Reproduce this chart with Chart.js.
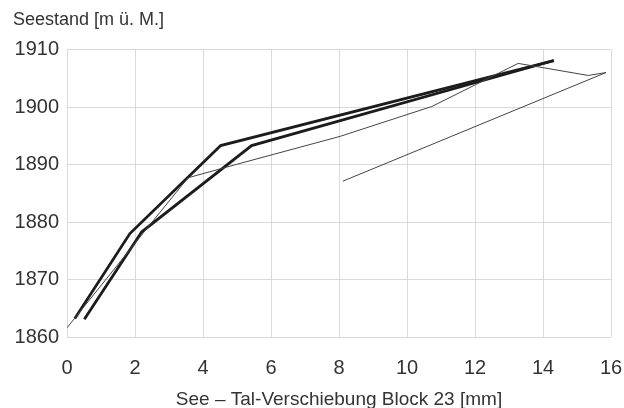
<!DOCTYPE html>
<html>
<head>
<meta charset="utf-8">
<script src="https://cdn.jsdelivr.net/npm/chart.js@4/dist/chart.umd.min.js"></script>
<style>
  html, body { margin: 0; padding: 0; background: #fff; }
  #wrap { width: 624px; height: 408px; }
</style>
</head>
<body>
<div id="wrap"><canvas id="myChart" width="624" height="408"></canvas></div>
<script>
// displacement [mm] vs lake level [m ü. M.]
const thickAx = [0.23, 1.85, 4.52, 14.32];
const thickAy = [1863.2, 1878.0, 1893.3, 1908.1];
const thickBx = [0.51, 2.2, 5.43, 14.32];
const thickBy = [1863.1, 1878.3, 1893.3, 1908.1];
const thinX = [0, 2.38, 3.56, 5.09, 8.03, 10.73, 13.27, 15.33, 15.85, 8.11];
const thinY = [1861.6, 1879.1, 1887.7, 1890.2, 1894.9, 1900.1, 1907.6, 1905.5, 1906.0, 1887.1];
const xTicks = [0, 2, 4, 6, 8, 10, 12, 14, 16];
const yTicks = [1860, 1870, 1880, 1890, 1900, 1910];

function pts(xs, ys) {
  return xs.map((x, i) => ({ x: x, y: ys[i] }));
}

const font = 'Liberation Sans, Arial, Helvetica, sans-serif';

const ctx = document.getElementById('myChart').getContext('2d');
const myChart = new Chart(ctx, {
  type: 'scatter',
  data: {
    datasets: [
      {
        data: pts(thinX, thinY),
        showLine: true,
        borderColor: '#444',
        borderWidth: 1,
        pointRadius: 0,
        tension: 0,
      },
      {
        data: pts(thickAx, thickAy),
        showLine: true,
        borderColor: '#1c1c1c',
        borderWidth: 2.8,
        pointRadius: 0,
        tension: 0,
      },
      {
        data: pts(thickBx, thickBy),
        showLine: true,
        borderColor: '#1c1c1c',
        borderWidth: 2.8,
        pointRadius: 0,
        tension: 0,
      },
    ],
  },
  options: {
    responsive: false,
    animation: false,
    layout: { padding: { left: 13, right: 13, top: 0, bottom: 0 } },
    plugins: {
      legend: { display: false },
      tooltip: { enabled: false },
      title: {
        display: true,
        text: 'Seestand [m ü. M.]',
        align: 'start',
        color: '#333',
        font: { family: font, size: 18, weight: 'normal' },
        padding: { top: 9, bottom: 19 },
      },
    },
    scales: {
      x: {
        type: 'linear',
        min: 0,
        max: 16,
        afterBuildTicks: (s) => { s.ticks = xTicks.map(v => ({ value: v })); },
        afterFit: (s) => { s.height = 71; s.paddingLeft = 0; s.paddingRight = 0; },
        border: { display: false },
        grid: { color: '#d9d9d9', lineWidth: 1, drawTicks: false },
        ticks: {
          color: '#333',
          padding: 19,
          maxRotation: 0,
          font: { family: font, size: 20 },
        },
        title: {
          display: true,
          text: 'See – Tal-Verschiebung Block 23 [mm]',
          color: '#333',
          font: { family: font, size: 19, lineHeight: 0.9 },
          padding: { top: 6, bottom: 0 },
        },
      },
      y: {
        type: 'linear',
        min: 1860,
        max: 1910,
        afterBuildTicks: (s) => { s.ticks = yTicks.map(v => ({ value: v })); },
        afterFit: (s) => { s.width = 54; },
        border: { display: false },
        grid: { color: '#d9d9d9', lineWidth: 1, drawTicks: false },
        ticks: {
          color: '#333',
          padding: 8,
          font: { family: font, size: 20 },
          callback: (v) => String(v),
        },
      },
    },
  },
});
</script>
</body>
</html>
